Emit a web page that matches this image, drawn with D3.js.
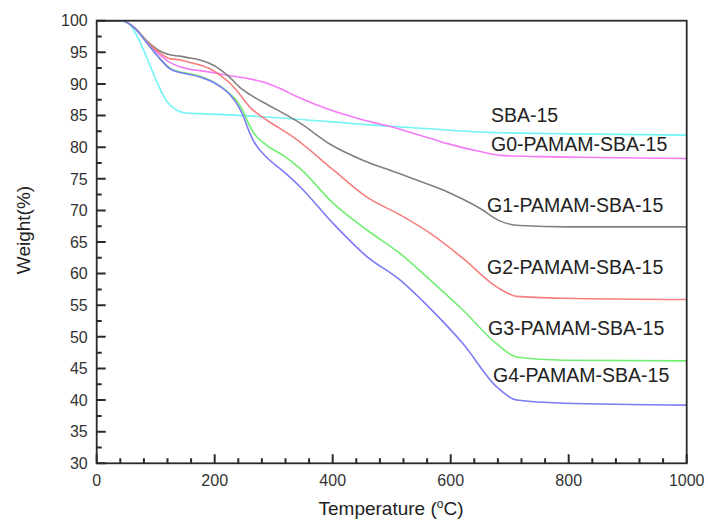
<!DOCTYPE html>
<html><head><meta charset="utf-8">
<script src="https://cdn.jsdelivr.net/npm/d3@7"></script>
<style>body{margin:0;background:#fff;} svg{display:block;font-family:"Liberation Sans",Arial,sans-serif;}</style>
</head><body>
<svg id="c" width="708" height="523"></svg>
<script>
const seriesNames = ["SBA-15","G0-PAMAM-SBA-15","G1-PAMAM-SBA-15","G2-PAMAM-SBA-15","G3-PAMAM-SBA-15","G4-PAMAM-SBA-15"];
const seriesColors = ["#6ff5f5","#f57af5","#808080","#f77f7f","#72ee72","#7b7bf5"];
const sba15 = [[0,100],[40,100],[55,99.5],[73,96.7],[90,93],[102,90.3],[119,87.2],[135,85.9],[150,85.4],[175,85.3],[226,85.1],[300,84.7],[400,84.0],[480,83.4],[565,82.9],[650,82.4],[800,82.1],[1000,81.9]];
const g0 = [[0,100],[42,100],[65,98.8],[85,96.6],[107,94.6],[124,93.4],[141,92.7],[158,92.3],[175,92.1],[209,91.6],[226,91.3],[260,90.8],[282,90.3],[310,89.3],[339,88.0],[395,85.9],[452,84.3],[508,83.0],[565,81.4],[593,80.6],[650,79.3],[684,78.7],[750,78.5],[819,78.4],[1000,78.2]];
const g1 = [[0,100],[42,100],[65,98.8],[85,96.8],[107,95.2],[124,94.6],[141,94.4],[158,94.1],[175,93.8],[190,93.3],[209,92.3],[226,91.0],[243,89.4],[260,88.3],[282,87.1],[300,86.2],[345,83.8],[395,80.5],[452,77.9],[508,76.0],[565,74.0],[593,73.0],[620,71.8],[650,70.3],[684,68.3],[717,67.6],[800,67.4],[1000,67.4]];
const g2 = [[0,100],[42,100],[65,98.8],[85,96.7],[107,94.9],[124,94.0],[141,93.8],[158,93.4],[175,93.0],[192,92.4],[209,91.4],[226,90.1],[243,88.3],[260,86.3],[277,85.0],[288,84.3],[339,81.2],[401,76.4],[458,72.1],[514,69.3],[565,66.4],[621,62.4],[678,57.9],[712,56.4],[791,56.1],[1000,55.9]];
const g3 = [[0,100],[42,100],[65,98.8],[85,96.5],[107,94.0],[124,92.5],[141,91.9],[158,91.6],[175,91.2],[192,90.6],[209,89.7],[226,88.4],[240,87.0],[249,85.5],[257,83.8],[265,82.4],[288,80.3],[316,78.7],[345,76.6],[401,71.1],[458,66.9],[514,63.2],[565,59.0],[621,54.2],[678,48.9],[712,46.8],[791,46.3],[1000,46.2]];
const g4 = [[0,100],[42,100],[65,98.8],[85,96.5],[107,94.0],[124,92.4],[141,91.8],[158,91.5],[175,91.1],[192,90.5],[209,89.6],[226,88.3],[240,86.5],[249,84.8],[257,82.8],[265,81.1],[288,78.4],[316,76.2],[345,73.7],[401,67.9],[458,62.7],[514,59.0],[565,54.5],[621,48.9],[678,42.1],[712,40.0],[791,39.5],[1000,39.2]];
const seriesData = [sba15,g0,g1,g2,g3,g4];
const labelPos = [[491,122],[491,150.5],[487,212],[487,274],[488,335],[493,381.5]];
const xTicks = [0,200,400,600,800,1000];
const xMinor = [40,80,120,160,240,280,320,360,440,480,520,560,640,680,720,760,840,880,920,960];
const yTicks = [30,35,40,45,50,55,60,65,70,75,80,85,90,95,100];
const yMinor = [32.5,37.5,42.5,47.5,52.5,57.5,62.5,67.5,72.5,77.5,82.5,87.5,92.5,97.5];

const svg = d3.select("#c");
const L=96.7, R=686.7, T=20.7, B=463.3;
const x = d3.scaleLinear().domain([0,1000]).range([L,R]);
const y = d3.scaleLinear().domain([30,100]).range([B,T]);
const axisCol = "#2a2a2a";

// curves
const line = d3.line().x(d=>x(d[0])).y(d=>y(d[1])).curve(d3.curveMonotoneX);
svg.append("g").selectAll("path").data(seriesData).join("path")
  .attr("d",line).attr("fill","none")
  .attr("stroke",(d,i)=>seriesColors[i]).attr("stroke-width",1.6);

// ticks as one path
const tp = d3.path();
xTicks.forEach(v=>{tp.moveTo(x(v),B); tp.lineTo(x(v),B-9);});
xMinor.forEach(v=>{tp.moveTo(x(v),B); tp.lineTo(x(v),B-5);});
yTicks.forEach(v=>{tp.moveTo(L,y(v)); tp.lineTo(L+9,y(v));});
yMinor.forEach(v=>{tp.moveTo(L,y(v)); tp.lineTo(L+5,y(v));});
svg.append("path").attr("d",tp.toString()).attr("fill","none")
  .attr("stroke",axisCol).attr("stroke-width",2);

// tick labels
svg.append("g").selectAll("text").data(xTicks).join("text")
  .attr("x",d=>x(d)).attr("y",B+22.5).attr("text-anchor","middle")
  .attr("font-size",16).attr("fill","#333").text(d=>d3.format("d")(d));
svg.append("g").selectAll("text").data(yTicks).join("text")
  .attr("x",L-9).attr("y",d=>y(d)).attr("dy","0.36em").attr("text-anchor","end")
  .attr("font-size",16).attr("fill","#333").text(d=>d3.format("d")(d));

// frame
svg.append("rect").attr("x",L).attr("y",T).attr("width",R-L).attr("height",B-T)
  .attr("fill","none").attr("stroke",axisCol).attr("stroke-width",1.8);

// series labels
svg.append("g").selectAll("text").data(seriesNames).join("text")
  .attr("x",(d,i)=>labelPos[i][0]).attr("y",(d,i)=>labelPos[i][1])
  .attr("font-size",19.5).attr("fill","#222").text(d=>d);

// axis titles
const xt = svg.append("text").attr("x",391).attr("y",515).attr("text-anchor","middle").attr("font-size",19).attr("fill","#222");
xt.append("tspan").text("Temperature (");
xt.append("tspan").attr("font-size",12).attr("dy",-7).text("o");
xt.append("tspan").attr("dy",7).text("C)");
svg.append("text").attr("transform","translate(30,230) rotate(-90)").attr("text-anchor","middle")
  .attr("font-size",19).attr("fill","#222").text("Weight(%)");
</script>
</body></html>
